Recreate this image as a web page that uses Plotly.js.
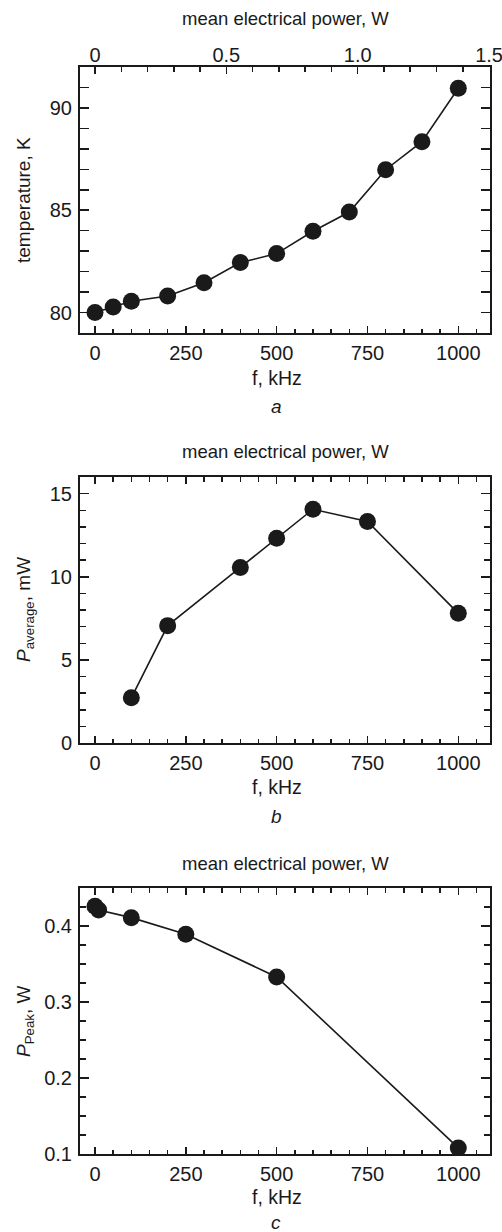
<!DOCTYPE html>
<html>
<head>
<meta charset="utf-8">
<script src="https://cdn.plot.ly/plotly-3.0.1.min.js"></script>
<style>
html,body{margin:0;padding:0;background:#fff;}
#chart{width:502px;height:1232px;}
</style>
</head>
<body>
<div id="chart"></div>
<script>
// ---- data ----
const freqA = [0, 50, 100, 200, 300, 400, 500, 600, 700, 800, 900, 1000];
const tempA = [80.0, 80.27, 80.55, 80.81, 81.46, 82.44, 82.88, 83.97, 84.91, 86.98, 88.35, 90.96];

const freqB = [100, 200, 400, 500, 600, 750, 1000];
const pAvgB = [2.72, 7.06, 10.56, 12.32, 14.06, 13.32, 7.8];

const freqC = [0, 10, 100, 250, 500, 1000];
const pPeakC = [0.426, 0.421, 0.411, 0.389, 0.333, 0.108];

const freqTicks = [0, 250, 500, 750, 1000];
const powerTickVals = [0, 0.5, 1.0, 1.5];
const powerTickText = ['0', '0.5', '1.0', '1.5'];

const topTitle = 'mean electrical power, W';
const xTitle = 'f, kHz';
const yTitles = ['temperature, K', '<i>P</i><sub>average</sub>, mW', '<i>P</i><sub>Peak</sub>, W'];
const panelLetters = ['a', 'b', 'c'];

// ---- layout helpers ----
const W = 502, H = 1232;
const fx = p => p / W;
const fy = p => 1 - p / H;
const FONT = 'Liberation Sans, Arial, Helvetica, sans-serif';
const INK = '#1a1a1a';
const TICKSIZE = 20;
const xDom = [fx(80), fx(490)];
const panels = [
  {top: 67, bot: 333},
  {top: 477, bot: 743},
  {top: 888, bot: 1154}
];

function xAxis(anchor, mirror) {
  return {
    domain: xDom, anchor: anchor, range: [-41.3, 1087.3],
    showline: true, linecolor: INK, linewidth: 2, mirror: mirror,
    ticks: 'inside', ticklen: 7, tickwidth: 1.5, tickcolor: INK,
    tickvals: freqTicks,
    minor: {dtick: 50, tick0: 0, ticks: 'inside', ticklen: 4.5, tickwidth: 1.5, tickcolor: INK},
    showgrid: false, zeroline: false,
    tickfont: {family: FONT, size: TICKSIZE, color: INK},
    ticklabelstandoff: 1
  };
}
function yAxis(anchor, dom, range, dtick, minorD) {
  return {
    domain: dom, anchor: anchor, range: range,
    showline: true, linecolor: INK, linewidth: 2, mirror: 'allticks',
    ticks: 'inside', ticklen: 9, tickwidth: 1.5, tickcolor: INK,
    dtick: dtick, tick0: 0,
    minor: {dtick: minorD, ticks: 'inside', ticklen: 6, tickwidth: 1.5, tickcolor: INK},
    showgrid: false, zeroline: false,
    tickfont: {family: FONT, size: TICKSIZE, color: INK},
    ticklabelstandoff: 2
  };
}

const mk = {size: 17, color: INK};
const ln = {color: INK, width: 1.6};
const data = [
  {x: freqA, y: tempA, xaxis: 'x', yaxis: 'y', mode: 'lines+markers', marker: mk, line: ln, showlegend: false},
  {x: freqB, y: pAvgB, xaxis: 'x2', yaxis: 'y2', mode: 'lines+markers', marker: mk, line: ln, showlegend: false},
  {x: freqC, y: pPeakC, xaxis: 'x3', yaxis: 'y3', mode: 'lines+markers', marker: mk, line: ln, showlegend: false},
  // empty carrier trace so the top power axis of panel a is drawn
  {x: powerTickVals, y: powerTickVals.map(() => null), xaxis: 'x4', yaxis: 'y', mode: 'markers',
   marker: {size: 0, opacity: 0}, showlegend: false, hoverinfo: 'skip'}
];

const doms = panels.map(p => [fy(p.bot), fy(p.top)]);

const annotations = [];
const titleYs = [18, 452, 863];
const fYs = [378, 787, 1197];
const letterYs = [407, 816, 1222];
const yTitleXs = [23, 25, 25];
panels.forEach((p, i) => {
  annotations.push({text: topTitle, xref: 'paper', yref: 'paper', x: fx(285), y: fy(titleYs[i]),
    xanchor: 'center', yanchor: 'middle', showarrow: false, font: {family: FONT, size: 18.5, color: INK}});
  annotations.push({text: xTitle, xref: 'paper', yref: 'paper', x: fx(277), y: fy(fYs[i]),
    xanchor: 'center', yanchor: 'middle', showarrow: false, font: {family: FONT, size: 19.5, color: INK}});
  annotations.push({text: '<i>' + panelLetters[i] + '</i>', xref: 'paper', yref: 'paper', x: fx(276), y: fy(letterYs[i]),
    xanchor: 'center', yanchor: 'middle', showarrow: false, font: {family: FONT, size: 19, color: INK}});
  annotations.push({text: yTitles[i], xref: 'paper', yref: 'paper', x: fx(yTitleXs[i]), y: fy((p.top + p.bot) / 2),
    xanchor: 'center', yanchor: 'middle', textangle: -90, showarrow: false, font: {family: FONT, size: 19, color: INK}});
});

const layout = {
  width: W, height: H,
  margin: {l: 0, r: 0, t: 0, b: 0},
  paper_bgcolor: '#fff', plot_bgcolor: '#fff',
  showlegend: false,
  xaxis: xAxis('y', false),
  yaxis: yAxis('x', doms[0], [79, 92], 5, 1),
  xaxis2: xAxis('y2', 'allticks'),
  yaxis2: yAxis('x2', doms[1], [0, 16], 5, 1),
  xaxis3: xAxis('y3', 'allticks'),
  yaxis3: yAxis('x3', doms[2], [0.1, 0.45], 0.1, 0.025),
  xaxis4: {
    anchor: 'y', overlaying: 'x', side: 'top', range: [-0.0571, 1.5036],
    showline: true, linecolor: INK, linewidth: 2,
    ticks: 'inside', ticklen: 7, tickwidth: 1.5, tickcolor: INK,
    tickvals: powerTickVals, ticktext: powerTickText,
    minor: {dtick: 0.1, tick0: 0, ticks: 'inside', ticklen: 4.5, tickwidth: 1.5, tickcolor: INK},
    showgrid: false, zeroline: false,
    tickfont: {family: FONT, size: TICKSIZE, color: INK},
    ticklabelstandoff: -5,
    ticklabeloverflow: 'allow'
  },
  annotations: annotations
};
layout.yaxis3.tickformat = '.1f';

Plotly.newPlot('chart', data, layout, {displayModeBar: false, staticPlot: true});
</script>
</body>
</html>
